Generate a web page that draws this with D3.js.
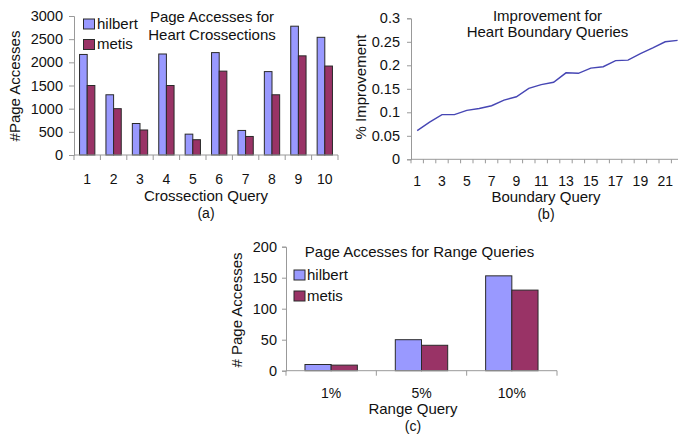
<!DOCTYPE html>
<html>
<head>
<meta charset="utf-8">
<script src="https://cdn.jsdelivr.net/npm/d3@7"></script>
<style>
  html, body { margin: 0; padding: 0; background: #fff; }
  svg { display: block; font-family: "Liberation Sans", Arial, sans-serif; }
  .axis path, .axis line { stroke: #999; }
  .axis text { fill: #111; font-size: 14.5px; font-family: "Liberation Sans", Arial, sans-serif; }
  .axis text.xl { font-size: 14px; }
  .lbl { fill: #111; font-size: 15px; }
  .sm { font-size: 14px; }
</style>
</head>
<body>
<svg id="chart" width="678" height="435"></svg>
<script>
// (a) page accesses per crossection query
const crossQueries = ["1", "2", "3", "4", "5", "6", "7", "8", "9", "10"];
const crossHilbert = [2170, 1300, 680, 2180, 450, 2210, 530, 1800, 2780, 2540];
const crossMetis   = [1500, 1000, 540, 1500, 330, 1810, 400, 1300, 2140, 1920];
const crossTicks   = [0, 500, 1000, 1500, 2000, 2500, 3000];

// (b) improvement per boundary query
const boundaryQueries = [1, 2, 3, 4, 5, 6, 7, 8, 9, 10, 11, 12, 13, 14, 15, 16, 17, 18, 19, 20, 21, 22];
const improvement = [0.061, 0.079, 0.095, 0.095, 0.104, 0.108, 0.114, 0.126, 0.133, 0.151, 0.159,
                     0.164, 0.184, 0.183, 0.194, 0.197, 0.210, 0.211, 0.225, 0.237, 0.250, 0.253];
const boundaryTicks = [0, 0.05, 0.1, 0.15, 0.2, 0.25, 0.3];
const boundaryLabels = [1, 3, 5, 7, 9, 11, 13, 15, 17, 19, 21];

// (c) page accesses per range query
const rangeQueries = ["1%", "5%", "10%"];
const rangeHilbert = [10, 50, 153];
const rangeMetis   = [9, 41, 130];
const rangeTicks   = [0, 50, 100, 150, 200];

const seriesNames = ["hilbert", "metis"];
const colors = { hilbert: "#9999ff", metis: "#993366" };

const svg = d3.select("#chart");

// Grouped bar panel with Excel-style axes (ticks between categories)
function barPanel(cfg) {
  const g = svg.append("g");
  const x = d3.scaleBand().domain(cfg.cats).range([cfg.x0, cfg.x1]).padding(0);
  const y = d3.scaleLinear().domain([0, cfg.ymax]).range([cfg.y0, cfg.y1]);
  const bw = x.step() * 0.29;
  const sub = d3.scaleBand().domain(seriesNames).range([0, 2 * bw]).padding(0);
  const off = (x.step() - 2 * bw) / 2;

  // y axis
  g.append("g").attr("class", "axis").attr("transform", `translate(${cfg.x0},0)`)
    .call(d3.axisLeft(y).tickValues(cfg.ticks).tickSize(cfg.ytick).tickPadding(cfg.ypad)
      .tickFormat(d3.format("d")));

  // bars
  const rows = cfg.cats.map((c, i) => ({ cat: c, hilbert: cfg.a[i], metis: cfg.b[i] }));
  g.append("g").selectAll("g").data(rows).join("g")
    .attr("transform", d => `translate(${x(d.cat) + off},0)`)
    .selectAll("rect").data(d => seriesNames.map(k => ({ k, v: d[k] }))).join("rect")
      .attr("x", d => sub(d.k))
      .attr("y", d => y(d.v))
      .attr("width", sub.bandwidth())
      .attr("height", d => y(0) - y(d.v))
      .attr("fill", d => colors[d.k])
      .attr("stroke", "#2a2a2a")
      .attr("stroke-width", 1);

  // x axis line, boundary ticks and labels
  const ax = g.append("g").attr("class", "axis");
  ax.append("line").attr("x1", cfg.x0).attr("x2", cfg.x1).attr("y1", y(0)).attr("y2", y(0));
  const bounds = cfg.cats.map(c => x(c)).concat([cfg.x1]);
  ax.selectAll("line.tk").data(bounds).join("line").attr("class", "tk")
    .attr("x1", d => d).attr("x2", d => d).attr("y1", y(0)).attr("y2", y(0) + 5);
  ax.selectAll("text").data(cfg.cats).join("text").attr("class", "xl")
    .attr("x", d => x(d) + x.step() / 2).attr("y", cfg.labelY)
    .attr("text-anchor", "middle").text(d => d);
  return g;
}

function legend(x, y1, y2, tx) {
  seriesNames.forEach((k, i) => {
    const yy = i === 0 ? y1 : y2;
    svg.append("rect").attr("x", x).attr("y", yy - 9.5).attr("width", 11).attr("height", 10)
      .attr("fill", colors[k]).attr("stroke", "#2a2a2a");
    svg.append("text").attr("class", "lbl").attr("x", tx).attr("y", yy).text(k);
  });
}

function text(x, y, s, anchor = "middle", rot = false, cls = "lbl") {
  const t = svg.append("text").attr("class", cls).attr("text-anchor", anchor).text(s);
  if (rot) t.attr("transform", `translate(${x},${y}) rotate(-90)`);
  else t.attr("x", x).attr("y", y);
}

// ---- (a)
barPanel({ cats: crossQueries, a: crossHilbert, b: crossMetis, ymax: 3000, ticks: crossTicks,
  x0: 74, x1: 338, y0: 155, y1: 16, ytick: 5, ypad: 6, labelY: 184 });
text(212, 22, "Page Accesses for");
text(212, 40, "Heart Crossections");
legend(83.5, 28.5, 49, 97);
text(20, 86, "#Page Accesses", "middle", true);
text(206, 201, "Crossection Query");
text(206, 217.5, "(a)", "middle", false, "lbl sm");

// ---- (b)
{
  const g = svg.append("g");
  const x = d3.scaleBand().domain(boundaryQueries).range([411, 411 + 22 * 12.4]).padding(0);
  const y = d3.scaleLinear().domain([0, 0.3]).range([159.3, 18.3]);
  g.append("g").attr("class", "axis").attr("transform", "translate(411,0)")
    .call(d3.axisLeft(y).tickValues(boundaryTicks).tickSize(4).tickPadding(7).tickFormat(d => String(d)));
  const ax = g.append("g").attr("class", "axis");
  ax.append("line").attr("x1", 411).attr("x2", 411 + 22 * 12.4).attr("y1", y(0)).attr("y2", y(0));
  const bounds = boundaryQueries.map(c => x(c)).concat([411 + 22 * 12.4]);
  ax.selectAll("line.tk").data(bounds).join("line").attr("class", "tk")
    .attr("x1", d => d).attr("x2", d => d).attr("y1", y(0)).attr("y2", y(0) + 4);
  ax.selectAll("text").data(boundaryLabels).join("text").attr("class", "xl")
    .attr("x", d => x(d) + x.step() / 2).attr("y", 185.5).attr("text-anchor", "middle").text(d => d);
  const line = d3.line().x((d, i) => x(boundaryQueries[i]) + x.step() / 2).y(d => y(d));
  g.append("path").datum(improvement).attr("d", line)
    .attr("fill", "none").attr("stroke", "#4646b4").attr("stroke-width", 1.4);
  text(547.5, 21, "Improvement for");
  text(547.5, 37, "Heart Boundary Queries");
  text(366, 87, "% Improvement", "middle", true);
  text(546, 202, "Boundary Query");
  text(546, 218.5, "(b)", "middle", false, "lbl sm");
}

// ---- (c)
barPanel({ cats: rangeQueries, a: rangeHilbert, b: rangeMetis, ymax: 200, ticks: rangeTicks,
  x0: 286, x1: 557, y0: 370.7, y1: 246.7, ytick: 4, ypad: 5, labelY: 397.5 });
text(419.5, 257, "Page Accesses for Range Queries");
legend(294, 279.5, 300.5, 307);
text(242, 310, "# Page Accesses", "middle", true);
text(413, 414, "Range Query");
text(413, 431, "(c)", "middle", false, "lbl sm");
</script>
</body>
</html>
